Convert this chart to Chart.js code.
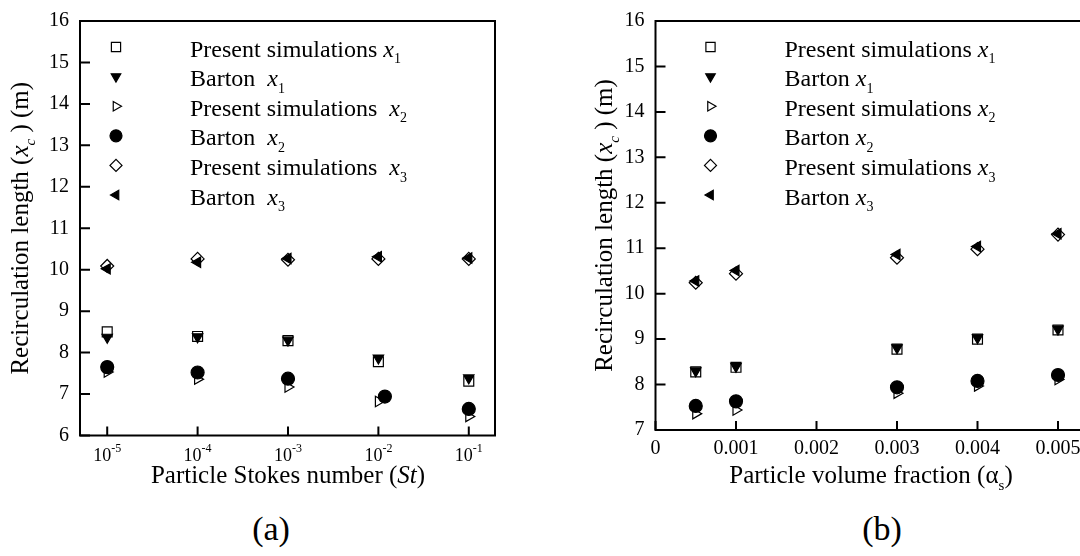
<!DOCTYPE html>
<html>
<head>
<meta charset="utf-8">
<script src="https://cdn.jsdelivr.net/npm/chart.js@4.4.0/dist/chart.umd.min.js"></script>
<style>
  html, body { margin: 0; padding: 0; background: #fff; width: 1080px; height: 556px; overflow: hidden; }
  canvas { position: absolute; top: 0; }
  .panel { position: absolute; top: 529px; transform: translate(-50%, -50%); font-family: "Liberation Serif", serif; font-size: 34px; color: #000; }
</style>
</head>
<body>
<canvas id="chartA" width="540" height="500" style="left:0"></canvas>
<canvas id="chartB" width="640" height="500" style="left:540px"></canvas>
<div class="panel" style="left:271px">(a)</div>
<div class="panel" style="left:882px">(b)</div>
<script>
// panel (a): recirculation length vs particle Stokes number
const stValues = [1e-5, 1e-4, 1e-3, 1e-2, 1e-1];
const stBartonX2At = [1e-5, 1e-4, 1e-3, 0.0118, 1e-1];
const stPresentX1 = [8.50, 8.39, 8.29, 7.78, 7.31];
const stBartonX1 = [8.37, 8.38, 8.30, 7.87, 7.39];
const stPresentX2 = [7.53, 7.36, 7.17, 6.82, 6.46];
const stBartonX2 = [7.65, 7.52, 7.37, 6.94, 6.64];
const stPresentX3 = [10.09, 10.26, 10.24, 10.26, 10.26];
const stBartonX3 = [10.02, 10.18, 10.27, 10.31, 10.28];
const stTickExp = [-5, -4, -3, -2, -1];
const stYTicks = [6, 7, 8, 9, 10, 11, 12, 13, 14, 15, 16];

// panel (b): recirculation length vs particle volume fraction
const alphaValues = [0.0005, 0.001, 0.003, 0.004, 0.005];
const alPresentX1 = [8.28, 8.38, 8.78, 9.00, 9.20];
const alBartonX1 = [8.30, 8.40, 8.81, 9.03, 9.22];
const alPresentX2 = [7.36, 7.44, 7.81, 7.97, 8.11];
const alBartonX2 = [7.53, 7.63, 7.94, 8.08, 8.21];
const alPresentX3 = [10.24, 10.44, 10.79, 10.98, 11.30];
const alBartonX3 = [10.28, 10.51, 10.86, 11.04, 11.32];
const alphaTicks = [0, 0.001, 0.002, 0.003, 0.004, 0.005, 0.006];
const alYTicks = [7, 8, 9, 10, 11, 12, 13, 14, 15, 16];

const FAM = '"Liberation Serif", "Times New Roman", serif';

// marker for each series, in legend order
const markers = [
  { style: 'rect', rot: 0, r: 7, fill: false },
  { style: 'triangle', rot: 180, r: 6, fill: true },
  { style: 'triangle', rot: 90, r: 6, fill: false },
  { style: 'circle', rot: 0, r: 6.5, fill: true },
  { style: 'rectRot', rot: 0, r: 6.5, fill: false },
  { style: 'triangle', rot: 270, r: 6, fill: true }
];

function xs(n, sp) {
  return [['Present simulations' + sp, ''], ['x', 'i'], [n, 'sub']];
}
function bx(n, sp) {
  return [['Barton' + sp, ''], ['x', 'i'], [n, 'sub']];
}
const legendA = [xs('1', ' '), bx('1', '  '), xs('2', '  '), bx('2', '  '), xs('3', '  '), bx('3', '  ')];
const legendB = [xs('1', ' '), bx('1', ' '), xs('2', ' '), bx('2', ' '), xs('3', ' '), bx('3', ' ')];
const yTitle = [['Recirculation length (', ''], ['x', 'i'], ['c', 'isub'], [' ) (m)', '']];

function segFont(kind, size) {
  if (kind === 'i') return 'italic ' + size + 'px ' + FAM;
  if (kind === 'sub' || kind === 'sup') return Math.round(size * 0.6) + 'px ' + FAM;
  if (kind === 'isub') return 'italic ' + Math.round(size * 0.6) + 'px ' + FAM;
  return size + 'px ' + FAM;
}

function drawRich(ctx, segs, x, y, size, align, angle) {
  ctx.save();
  ctx.translate(x, y);
  if (angle) ctx.rotate(angle);
  ctx.textBaseline = 'alphabetic';
  ctx.textAlign = 'left';
  ctx.fillStyle = '#000';
  let total = 0;
  const widths = segs.map(([t, k]) => {
    ctx.font = segFont(k, size);
    const w = ctx.measureText(t).width;
    total += w;
    return w;
  });
  let cx = align === 'center' ? -total / 2 : 0;
  segs.forEach(([t, k], i) => {
    ctx.font = segFont(k, size);
    let dy = 0;
    if (k === 'sub' || k === 'isub') dy = size * 0.28;
    if (k === 'sup') dy = -size * 0.4;
    ctx.fillText(t, cx, dy);
    cx += widths[i];
  });
  ctx.restore();
}

function ds(xv, yv, m) {
  return {
    data: xv.map((x, i) => ({ x: x, y: yv[i] })),
    showLine: false,
    pointStyle: m.style,
    pointRotation: m.rot,
    pointRadius: m.r,
    pointHoverRadius: m.r,
    pointBackgroundColor: m.fill ? '#000' : 'rgba(0,0,0,0)',
    pointBorderColor: '#000',
    pointBorderWidth: 1.2
  };
}

// frame, inward tick marks, legend and titles
function decor(cfg) {
  return {
    id: 'decor',
    afterDraw(chart) {
      const { ctx, chartArea: a, scales } = chart;
      const x = scales.x, y = scales.y;
      ctx.save();
      ctx.strokeStyle = '#000';
      ctx.lineWidth = 2;
      ctx.strokeRect(a.left, a.top, a.right - a.left, a.bottom - a.top);
      ctx.beginPath();
      cfg.xTicks.forEach(v => {
        const px = x.getPixelForValue(v);
        ctx.moveTo(px, a.bottom);
        ctx.lineTo(px, a.bottom - 9);
      });
      cfg.yTicks.forEach(v => {
        const py = y.getPixelForValue(v);
        ctx.moveTo(a.left, py);
        ctx.lineTo(a.left + 10, py);
      });
      ctx.stroke();

      // legend
      cfg.legend.forEach((segs, i) => {
        const rowY = 47 + i * 29.6;
        const m = markers[i];
        ctx.fillStyle = m.fill ? '#000' : 'rgba(0,0,0,0)';
        ctx.strokeStyle = '#000';
        ctx.lineWidth = 1.2;
        Chart.helpers.drawPoint(ctx, { pointStyle: m.style, rotation: m.rot, radius: m.r - 0.5, borderWidth: 1.2 }, cfg.symX, rowY);
        drawRich(ctx, segs, cfg.textX, rowY + 9.5, 24, 'left');
      });

      // log tick labels
      if (cfg.expTicks) {
        cfg.expTicks.forEach(e => {
          const px = x.getPixelForValue(Math.pow(10, e));
          ctx.font = '18px ' + FAM;
          const w1 = ctx.measureText('10').width;
          ctx.font = '12px ' + FAM;
          const w2 = ctx.measureText(String(e)).width;
          const start = px - (w1 + w2) / 2;
          ctx.fillStyle = '#000';
          ctx.textAlign = 'left';
          ctx.textBaseline = 'alphabetic';
          ctx.font = '18px ' + FAM;
          ctx.fillText('10', start, 461);
          ctx.font = '12px ' + FAM;
          ctx.fillText(String(e), start + w1, 452);
        });
      }

      drawRich(ctx, yTitle, cfg.yTitleX, (a.top + a.bottom) / 2, 25, 'center', -Math.PI / 2);
      drawRich(ctx, cfg.xTitle, cfg.xTitleX, 483, 25, 'center');
      ctx.restore();
    }
  };
}

const yTickFont = { family: FAM, size: 20, lineHeight: 1 };

new Chart(document.getElementById('chartA'), {
  type: 'scatter',
  data: {
    datasets: [
      ds(stValues, stPresentX1, markers[0]),
      ds(stValues, stBartonX1, markers[1]),
      ds(stValues, stPresentX2, markers[2]),
      ds(stBartonX2At, stBartonX2, markers[3]),
      ds(stValues, stPresentX3, markers[4]),
      ds(stValues, stBartonX3, markers[5])
    ]
  },
  options: {
    responsive: false,
    animation: false,
    events: [],
    layout: { padding: { top: 11, right: 45, left: 0, bottom: 0 } },
    plugins: { legend: { display: false }, tooltip: { enabled: false } },
    scales: {
      x: {
        type: 'logarithmic',
        min: 5e-6,
        max: 0.195,
        afterBuildTicks: s => { s.ticks = stValues.map(v => ({ value: v })); },
        afterFit: s => { s.height = 64.5; },
        ticks: { display: false },
        grid: { display: false, drawTicks: false },
        border: { display: false }
      },
      y: {
        min: 6,
        max: 16,
        afterBuildTicks: s => { s.ticks = stYTicks.map(v => ({ value: v })); },
        afterFit: s => { s.width = 80; },
        ticks: { color: '#000', font: yTickFont, padding: 11 },
        grid: { display: false, drawTicks: false },
        border: { display: false }
      }
    }
  },
  plugins: [decor({
    xTicks: stValues,
    yTicks: stYTicks,
    expTicks: stTickExp,
    legend: legendA,
    symX: 116,
    textX: 190,
    yTitleX: 28,
    xTitleX: 288,
    xTitle: [['Particle Stokes number (', ''], ['St', 'i'], [')', '']]
  })]
});

new Chart(document.getElementById('chartB'), {
  type: 'scatter',
  data: {
    datasets: [
      ds(alphaValues, alPresentX1, markers[0]),
      ds(alphaValues, alBartonX1, markers[1]),
      ds(alphaValues, alPresentX2, markers[2]),
      ds(alphaValues, alBartonX2, markers[3]),
      ds(alphaValues, alPresentX3, markers[4]),
      ds(alphaValues, alBartonX3, markers[5])
    ]
  },
  options: {
    responsive: false,
    animation: false,
    events: [],
    layout: { padding: { top: 11, right: 41.5, left: 0, bottom: 0 } },
    plugins: { legend: { display: false }, tooltip: { enabled: false } },
    scales: {
      x: {
        type: 'linear',
        min: 0,
        max: 0.006,
        afterBuildTicks: s => { s.ticks = alphaTicks.map(v => ({ value: v })); },
        afterFit: s => { s.height = 70; },
        ticks: {
          color: '#000',
          font: yTickFont,
          padding: 9,
          maxRotation: 0,
          callback: v => v === 0 ? '0' : v.toFixed(3)
        },
        grid: { display: false, drawTicks: false },
        border: { display: false }
      },
      y: {
        min: 7,
        max: 16,
        afterBuildTicks: s => { s.ticks = alYTicks.map(v => ({ value: v })); },
        afterFit: s => { s.width = 115.5; },
        ticks: { color: '#000', font: yTickFont, padding: 11 },
        grid: { display: false, drawTicks: false },
        border: { display: false }
      }
    }
  },
  plugins: [decor({
    xTicks: alphaTicks,
    yTicks: alYTicks,
    legend: legendB,
    symX: 170.5,
    textX: 244.5,
    yTitleX: 72,
    xTitleX: 331,
    xTitle: [['Particle volume fraction (', ''], ['\u03b1', ''], ['s', 'sub'], [')', '']]
  })]
});
</script>
</body>
</html>
